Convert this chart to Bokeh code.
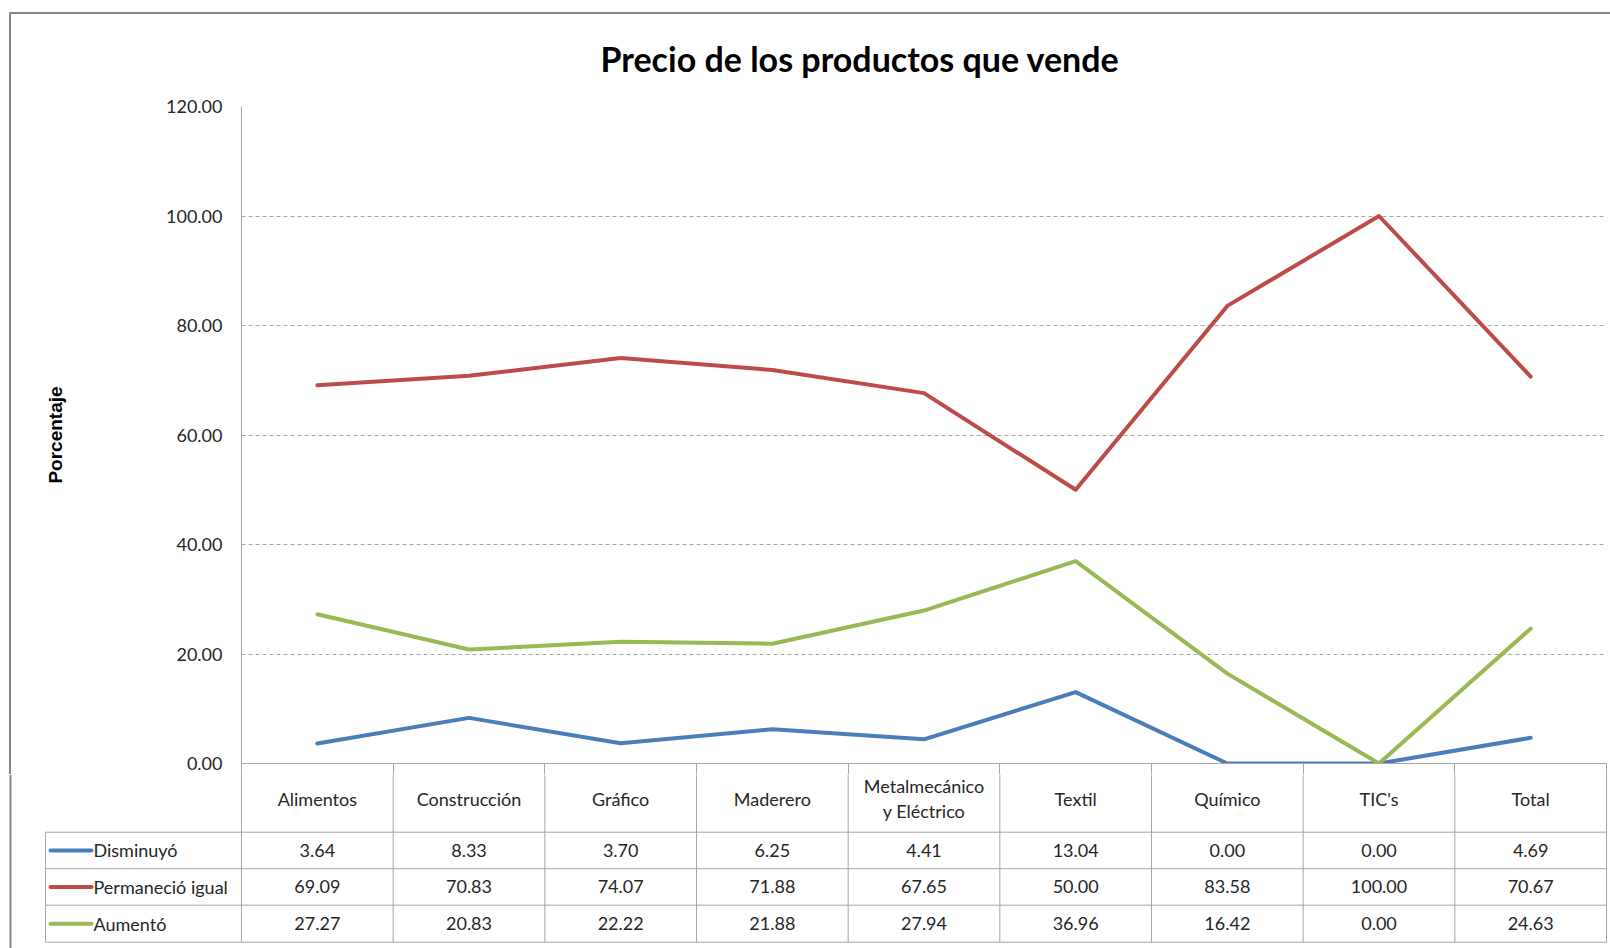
from bokeh.plotting import figure
from bokeh.models import (Range1d, FixedTicker, PrintfTickFormatter)
from bokeh.layouts import column
from bokeh.embed import file_html
from bokeh.resources import INLINE
from bokeh.core.properties import value

# ---------------- data ----------------
categories = ["Alimentos", "Construcción", "Gráfico", "Maderero",
              "Metalmecánico\ny Eléctrico", "Textil", "Químico", "TIC's", "Total"]
disminuyo = [3.64, 8.33, 3.70, 6.25, 4.41, 13.04, 0.00, 0.00, 4.69]
permanecio = [69.09, 70.83, 74.07, 71.88, 67.65, 50.00, 83.58, 100.00, 70.67]
aumento = [27.27, 20.83, 22.22, 21.88, 27.94, 36.96, 16.42, 0.00, 24.63]
series_names = ["Disminuyó", "Permaneció igual", "Aumentó"]
y_ticks = [0, 20, 40, 60, 80, 100, 120]
title_text = "Precio de los productos que vende"
y_title = "Porcentaje"

# ---------------- styles ----------------
colors = ["#4A7EBB", "#BE4B48", "#98B954"]
series = [disminuyo, permanecio, aumento]
GRID = "#A6A6A6"
BORDER = "#878787"
TXT = "#262626"
FONT = "Lato"

W = 1610
FRAME_L, FRAME_R, FRAME_T, FRAME_B = 241, 1606, 106, 763
GAP = 11
H1 = FRAME_B + GAP
H2 = 948 - H1
n = len(categories)
COLW = (FRAME_R - FRAME_L) / n
cat_x = [i + 0.5 for i in range(n)]   # centre of each category column

# ---------------- chart ----------------
p = figure(width=W, height=H1, x_range=Range1d(0, n), y_range=Range1d(0, 120),
           x_axis_location="below", toolbar_location=None, output_backend="svg",
           min_border_left=FRAME_L, min_border_right=W - FRAME_R,
           min_border_top=FRAME_T, min_border_bottom=GAP,
           border_fill_color=None)
p.styles = {"background": (
    "linear-gradient(%s, %s) 9px 12px / 2px 100%% no-repeat, "
    "linear-gradient(%s, %s) 9px 12px / 100%% 2px no-repeat, #ffffff"
    % (BORDER, BORDER, BORDER, BORDER))}
if "frame_align" in p.properties():
    p.frame_align = False
p.outline_line_color = None
p.xgrid.visible = False
p.ygrid.ticker = FixedTicker(ticks=y_ticks[1:])
p.ygrid.grid_line_color = GRID
p.ygrid.grid_line_dash = "4 3"
p.ygrid.grid_line_width = 1

ax = p.yaxis[0]
ax.ticker = FixedTicker(ticks=y_ticks)
ax.formatter = PrintfTickFormatter(format="%.2f")
ax.major_tick_line_color = None
ax.minor_tick_line_color = None
ax.axis_line_color = GRID
ax.major_label_standoff = 13
ax.major_label_text_font = FONT
ax.major_label_text_font_size = "18px"
ax.major_label_text_color = TXT
ax.axis_label = y_title
ax.axis_label_text_font = "Liberation Sans"
ax.axis_label_text_font_style = "bold"
ax.axis_label_text_font_size = "19px"
ax.axis_label_text_color = "#000000"
ax.axis_label_standoff = 97

# bottom axis = table top rule + header column rules
bx = p.xaxis[0]
bx.ticker = FixedTicker(ticks=list(range(n + 1)))
bx.axis_line_color = GRID
bx.major_tick_line_color = GRID
bx.major_tick_in = 0
bx.major_tick_out = GAP
bx.minor_tick_line_color = None
bx.major_label_standoff = 0
bx.major_label_text_font_size = "0px"
bx.major_label_overrides = {i: "" for i in range(n + 1)}

for vals, col in zip(series, colors):
    p.line(x=cat_x, y=vals, line_color=col, line_width=4,
           line_join="round", line_cap="round")

p.title.text = title_text
p.title.align = "left"
p.title.offset = 359
p.title.standoff = 55
p.title.text_font = FONT
p.title.text_font_style = "bold"
p.title.text_font_size = "34px"
p.title.text_color = "#000000"

# ---------------- data table ----------------
def u(px):
    return (px - FRAME_L) / COLW

t = figure(width=W, height=H2, x_range=Range1d(u(0), u(W)), y_range=Range1d(948, H1),
           x_axis_location=None, y_axis_location=None, toolbar_location=None,
           output_backend="svg", min_border=0)
if "frame_align" in t.properties():
    t.frame_align = False
t.outline_line_color = None
t.grid.visible = False

hdr_left = u(45)
row_edges = [763, 831.7, 868.2, 904.7, 941.7]

t.segment(x0=[hdr_left] * 4, y0=row_edges[1:], x1=[n] * 4, y1=row_edges[1:],
          line_color=GRID, line_width=1)
vx = list(range(n + 1))
t.segment(x0=vx, y0=[H1] * (n + 1), x1=vx, y1=[row_edges[-1]] * (n + 1),
          line_color=GRID, line_width=1)
t.segment(x0=[hdr_left], y0=[row_edges[1]], x1=[hdr_left], y1=[row_edges[-1]],
          line_color=GRID, line_width=1)
t.segment(x0=[u(10)], y0=[H1], x1=[u(10)], y1=[948], line_color=BORDER, line_width=2)

t.text(x=cat_x, y=[(row_edges[0] + row_edges[1]) / 2 + 1] * n, text=categories,
       text_align="center", text_baseline="middle", text_font=value(FONT),
       text_font_size="18px", text_color=TXT, text_line_height=1.15)

for r, (name, vals, col) in enumerate(zip(series_names, series, colors)):
    yc = (row_edges[r + 1] + row_edges[r + 2]) / 2
    t.text(x=cat_x, y=[yc] * n, text=["%.2f" % v for v in vals],
           text_align="center", text_baseline="middle", text_font=value(FONT),
           text_font_size="18px", text_color=TXT)
    t.segment(x0=[u(50)], y0=[yc], x1=[u(91)], y1=[yc], line_color=col,
              line_width=4, line_cap="round")
    t.text(x=[u(93)], y=[yc], text=[name], text_align="left",
           text_baseline="middle", text_font=value(FONT),
           text_font_size="18px", text_color=TXT)

layout = column(p, t, spacing=0)
open("out.html", "w").write(file_html(layout, INLINE))
